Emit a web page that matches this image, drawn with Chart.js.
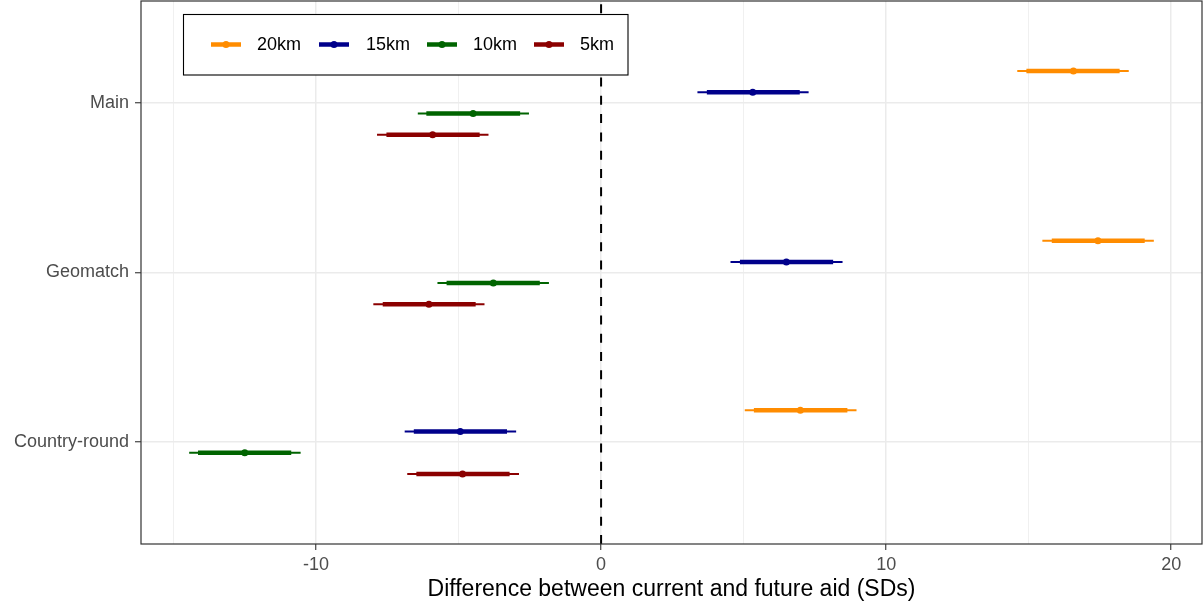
<!DOCTYPE html>
<html>
<head>
<meta charset="utf-8">
<title>Difference between current and future aid</title>
<script src="https://cdn.jsdelivr.net/npm/chart.js@4/dist/chart.umd.min.js"></script>
<style>
html,body{margin:0;padding:0;background:#fff;}
canvas{display:block;}
</style>
</head>
<body>
<canvas id="coefChart" width="1204" height="607"></canvas>
<script>
// Models, top to bottom
const categories=['Main','Geomatch','Country-round'];
// Buffer distances
const seriesLabels=['20km','15km','10km','5km'];
const seriesColors=['#ff8c00','#00008b','#006400','#8b0000'];

// Point estimates [series][model]
const estimates=[
  [16.57,17.43,6.99],
  [5.32,6.50,-4.94],
  [-4.49,-3.78,-12.50],
  [-5.91,-6.04,-4.86]
];
// Inner (thick) interval
const innerLow=[
  [14.92,15.81,5.36],
  [3.71,4.87,-6.57],
  [-6.13,-5.42,-14.14],
  [-7.53,-7.66,-6.48]
];
const innerHigh=[
  [18.19,19.07,8.64],
  [6.97,8.14,-3.30],
  [-2.84,-2.15,-10.87],
  [-4.26,-4.40,-3.21]
];
// Outer (thin) interval
const outerLow=[
  [14.60,15.48,5.04],
  [3.38,4.54,-6.89],
  [-6.43,-5.74,-14.45],
  [-7.86,-7.99,-6.80]
];
const outerHigh=[
  [18.51,19.39,8.96],
  [7.28,8.47,-2.98],
  [-2.53,-1.83,-10.54],
  [-3.95,-4.09,-2.88]
];
const xTicks=[-15,-10,-5,0,5,10,15,20];

const FONT='"Liberation Sans", Arial, Helvetica, sans-serif';
const dodge=[-0.1875,-0.0625,0.0625,0.1875];

function yPos(s,c){ return c+1+dodge[s]; }

// one broken line per series: lo->hi for each model, null between
function segments(lo,hi,s){
  const pts=[];
  categories.forEach((_,c)=>{
    pts.push({x:lo[s][c],y:yPos(s,c)},{x:hi[s][c],y:yPos(s,c)},{x:null,y:null});
  });
  return pts;
}

const datasets=[{
  data:[{x:0,y:3.6},{x:0,y:0.4}],
  showLine:true, borderColor:'#000', borderWidth:2, borderDash:[9,9.3], pointRadius:0
}];
seriesLabels.forEach((lab,s)=>{
  datasets.push({
    label:lab, data:segments(outerLow,outerHigh,s),
    showLine:true, spanGaps:false, borderColor:seriesColors[s], borderWidth:2, pointRadius:0
  });
  datasets.push({
    label:lab, data:segments(innerLow,innerHigh,s),
    showLine:true, spanGaps:false, borderColor:seriesColors[s], borderWidth:4.5, pointRadius:0
  });
  datasets.push({
    label:lab, data:estimates[s].map((v,c)=>({x:v,y:yPos(s,c)})),
    showLine:false, pointRadius:3.5, pointBackgroundColor:seriesColors[s], pointBorderWidth:0
  });
});

const isMajor=c=>c.tick && c.tick.value%10===0;

// drop the edge padding chart.js reserves for first/last labels
function noEdgePad(s){
  s.paddingTop=0; s.paddingBottom=0; s.paddingLeft=0; s.paddingRight=0;
}

// panel border + legend inside the plot
const framePlugin={
  id:'framePlugin',
  afterDatasetsDraw(chart){
    const {ctx,chartArea:a}=chart;
    ctx.save();
    ctx.strokeStyle='#333333';
    ctx.lineWidth=1.2;
    ctx.strokeRect(a.left,a.top,a.right-a.left,a.bottom-a.top);

    ctx.fillStyle='#fff';
    ctx.fillRect(183.5,14.5,444.5,60.5);
    ctx.strokeStyle='#000';
    ctx.lineWidth=1.1;
    ctx.strokeRect(183.5,14.5,444.5,60.5);

    const keyX=[211,319,427,534], textX=[257,366,473,580], y=44.5;
    ctx.font='18px '+FONT;
    ctx.textBaseline='middle';
    seriesLabels.forEach((lab,i)=>{
      ctx.strokeStyle=seriesColors[i];
      ctx.lineWidth=4.5;
      ctx.beginPath();
      ctx.moveTo(keyX[i],y); ctx.lineTo(keyX[i]+30,y);
      ctx.stroke();
      ctx.fillStyle=seriesColors[i];
      ctx.beginPath();
      ctx.arc(keyX[i]+15,y,3.5,0,Math.PI*2);
      ctx.fill();
      ctx.fillStyle='#000';
      ctx.fillText(lab,textX[i],y+0.5);
    });
    ctx.restore();
  }
};

new Chart(document.getElementById('coefChart'),{
  type:'scatter',
  data:{datasets},
  options:{
    responsive:false, animation:false, events:[], devicePixelRatio:1,
    layout:{autoPadding:false, padding:{top:1,right:2,bottom:0,left:0}},
    plugins:{legend:{display:false}, tooltip:{enabled:false}},
    scales:{
      x:{
        type:'linear', min:-16.14, max:21.08,
        afterBuildTicks:s=>{ s.ticks=xTicks.map(v=>({value:v})); },
        afterFit:s=>{ s.height=63; noEdgePad(s); },
        ticks:{
          callback:v=>v%10===0?String(v):'',
          color:'#4d4d4d', font:{family:FONT,size:18}, padding:4,
          maxRotation:0, autoSkip:false
        },
        grid:{
          color:'#ebebeb', lineWidth:c=>isMajor(c)?1.5:0.75,
          tickLength:6, tickWidth:1.1,
          tickColor:c=>isMajor(c)?'#333333':'rgba(0,0,0,0)'
        },
        border:{display:false},
        title:{
          display:true, text:'Difference between current and future aid (SDs)',
          color:'#000', font:{family:FONT,size:23}, padding:{top:0,bottom:3.5}
        }
      },
      y:{
        type:'linear', min:0.4, max:3.6, reverse:true,
        afterBuildTicks:s=>{ s.ticks=[1,2,3].map(v=>({value:v})); },
        afterFit:s=>{ s.width=141; noEdgePad(s); },
        ticks:{
          callback:(v,i)=>categories[i],
          color:'#4d4d4d', font:{family:FONT,size:18}, padding:6, autoSkip:false
        },
        grid:{color:'#ebebeb', lineWidth:1.5, tickLength:6, tickWidth:1.1, tickColor:'#333333'},
        border:{display:false}
      }
    }
  },
  plugins:[framePlugin]
});
</script>
</body>
</html>
